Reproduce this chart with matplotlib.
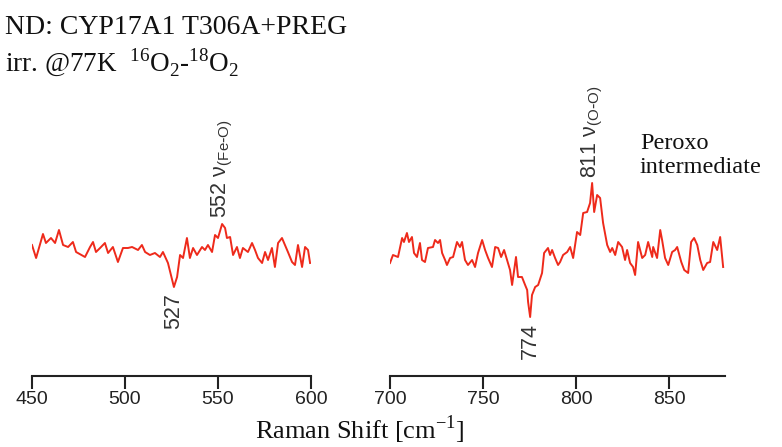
import matplotlib
matplotlib.use("Agg")
import matplotlib.pyplot as plt

plt.rcParams["mathtext.fontset"] = "custom"
sans = "Liberation Sans"
serif = "Liberation Serif"

# Left panel: Raman shift (cm-1) and difference intensity (arb. units)
left_x = [450, 452.2, 455.9, 457.5, 460.2, 462.4, 464.5, 466.7, 469.4, 472.0, 473.7, 478.5,
          481.2, 482.8, 484.4, 486.6, 489.2, 490.9, 493.5, 496.2, 498.9, 501.6, 503.8, 507.0,
          509.1, 510.8, 513.4, 516.1, 518.8, 520.4, 523.1, 526.3, 528.0, 529.6, 531.2, 533.3,
          534.9, 536.6, 538.7, 541.4, 543.0, 544.6, 546.8, 548.4, 550.0, 552.2, 553.8, 554.8,
          556.5, 558.1, 560.2, 561.8, 563.4, 566.1, 568.3, 569.9, 571.5, 573.7, 575.3, 576.9,
          579.0, 580.6, 582.3, 584.4, 586.0, 587.6, 589.8, 591.4, 593.0, 595.2, 596.8, 598.4,
          599.5]
left_y = [15, 2, 26, 17, 22, 17, 30, 15, 13, 18, 8, 3,
          13, 18, 8, 12, 17, 7, 13, -2, 12, 12, 13, 10,
          15, 8, 5, 7, 3, 8, -3, -27, -17, 5, 2, 22,
          2, 12, 5, 13, 10, 15, 8, 25, 22, 36, 32, 22,
          23, 5, 13, 2, 12, 8, 17, 10, 2, -3, 8, 0,
          12, -7, 17, 22, 15, 8, -2, -5, 15, -7, 13, 10,
          -3]

# Right panel
right_x = [700, 701.6, 704.3, 706.5, 707.5, 709.1, 710.2, 711.8, 712.9, 714.5, 716.1, 717.2,
           718.8, 720.4, 723.1, 724.2, 725.8, 726.9, 728.0, 729.6, 730.6, 732.3, 733.9, 736.0,
           737.6, 738.7, 740.3, 741.9, 744.1, 745.7, 747.3, 749.5, 751.1, 752.7, 754.8, 756.5,
           758.1, 759.7, 761.3, 762.9, 764.5, 765.6, 767.7, 768.8, 770.9, 772.6, 773.7, 774.2,
           775.3, 776.3, 778.0, 779.6, 781.7, 782.8, 784.9, 786.0, 787.1, 788.7, 790.3, 791.4,
           793.0, 795.2, 796.8, 798.4, 800.5, 802.2, 803.8, 805.9, 807.5, 808.6, 809.7, 811.3,
           812.9, 814.5, 816.7, 818.3, 819.4, 821.0, 822.6, 824.7, 826.3, 827.4, 829.0, 830.6,
           831.7, 833.3, 835.5, 837.1, 838.7, 840.9, 841.4, 843.5, 845.2, 846.2, 847.8, 849.5,
           851.6, 853.2, 854.3, 856.5, 858.1, 860.2, 861.8, 863.4, 865.1, 866.7, 868.3, 870.4,
           872.0, 873.7, 875.8, 877.4, 879.0]
right_y = [-3, 5, 3, 22, 18, 27, 18, 23, 7, 3, 17, 0,
           -2, 12, 13, 20, 17, 20, 7, 0, -5, 2, 3, 18,
           13, 18, 0, -5, 0, -7, 7, 20, 10, 2, -7, 13,
           12, 3, 10, 0, -10, -25, 3, -17, -17, -25, -30, -42,
           -57, -35, -27, -25, -13, 7, 12, 5, 10, 2, -5, -2,
           5, 8, 13, 2, 28, 25, 47, 48, 57, 77, 48, 65,
           62, 37, 15, 8, 12, 5, 18, 13, 0, 10, -3, -7,
           -15, 18, 2, 5, 18, 3, 13, 2, 30, 20, 2, -5,
           8, 10, 13, -2, -10, -13, 18, 22, 15, 0, -10, -3,
           -2, 18, 10, 23, -7]

left_ticks = [450, 500, 550, 600]
right_ticks = [700, 750, 800, 850]

fig = plt.figure(figsize=(7.82, 4.47), dpi=100)
W, H = 782, 447
ybot = 1 - 376 / H
ytop = 1 - 100 / H
ax1 = fig.add_axes([32 / W, ybot, (311 - 32) / W, ytop - ybot])
ax2 = fig.add_axes([390 / W, ybot, (725 - 390) / W, ytop - ybot])

red = "#ee2a1b"
ax1.plot(left_x, left_y, color=red, lw=1.4)
ax2.plot(right_x, right_y, color=red, lw=1.4)
ax1.set_xlim(450, 600)
ax2.set_xlim(700, 880)
for ax, ticks in ((ax1, left_ticks), (ax2, right_ticks)):
    ax.set_ylim(-116, 160)
    ax.set_xticks(ticks)
    ax.set_xticklabels([str(t) for t in ticks], fontfamily=sans, fontsize=14, color="#222222")
    ax.set_yticks([])
    for s in ("top", "right", "left"):
        ax.spines[s].set_visible(False)
    ax.spines["bottom"].set_linewidth(1.5)
    ax.spines["bottom"].set_color("#222222")
    ax.tick_params(axis="x", direction="out", length=9, width=1.5, color="#222222", pad=2)
    ax.patch.set_alpha(0)

ann = dict(fontfamily=sans, fontsize=15.5, color="#333333", rotation=90)
ax1.text(526.3, -33, "527", ha="center", va="top", **ann)
ax1.text(552.2, 42, r"552 $\mathregular{ν}_{\mathregular{(Fe\text{-}O)}}$", ha="center", va="bottom", **ann)
ax2.text(775.3, -63, "774", ha="center", va="top", **ann)
ax2.text(808.6, 82, r"811 $\mathregular{ν}_{\mathregular{(O\text{-}O)}}$", ha="center", va="bottom", **ann)

fig.text(640 / W, 1 - 133 / H, "Peroxo\nintermediate", fontfamily=serif, fontsize=17.5,
         ha="left", va="top", linespacing=1.2, color="#111111")
fig.text(5 / W, 1 - 28 / H, "ND: CYP17A1 T306A+PREG", fontfamily=serif, fontsize=20,
         ha="left", va="center", color="#111111")
fig.text(5 / W, 1 - 63 / H, r"irr. @77K  $^{\mathregular{16}}$O$_{\mathregular{2}}$-$^{\mathregular{18}}$O$_{\mathregular{2}}$",
         fontfamily=serif, fontsize=19.5, ha="left", va="center", color="#111111")
fig.text(360 / W, 1 - 430 / H, r"Raman Shift [cm$^{\mathregular{-1}}$]", fontfamily=serif,
         fontsize=19, ha="center", va="center", color="#111111")

fig.savefig("out.png", dpi=100)
